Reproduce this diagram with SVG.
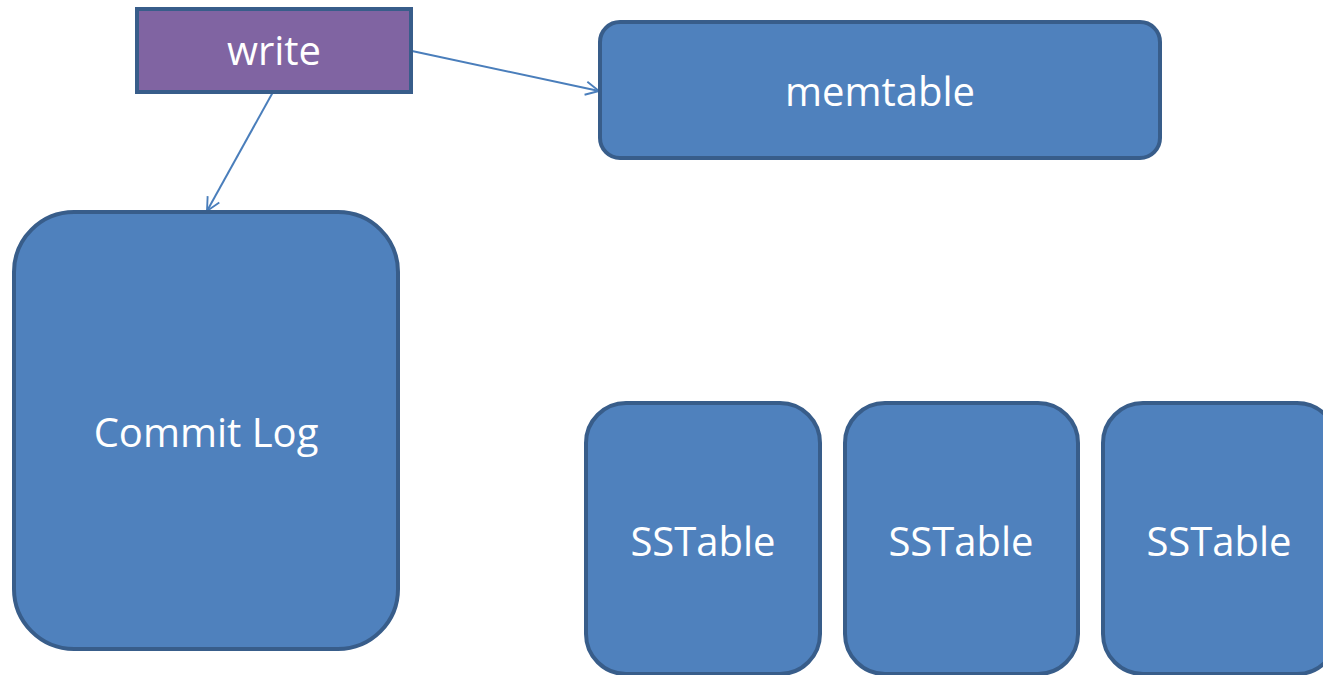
<svg xmlns="http://www.w3.org/2000/svg" width="1323" height="675" viewBox="0 0 1323 675">
  <style>
    .box { fill: #4F81BD; stroke: #385D8A; stroke-width: 4; }
    .wbox { fill: #8064A2; stroke: #385D8A; stroke-width: 4; }
    .lbl { font-family: "Open Sans", "Liberation Sans", sans-serif; font-size: 40px; fill: #FFFFFF; text-anchor: middle; }
    .conn { stroke: #4A7EBB; stroke-width: 2; fill: none; marker-end: url(#arrow); }
  </style>
  <defs>
    <marker id="arrow" viewBox="0 0 12 12" refX="11" refY="6" markerWidth="8" markerHeight="8" markerUnits="strokeWidth" orient="auto">
      <path d="M1,1 L11,6 L1,11" fill="none" stroke="#4A7EBB" stroke-width="1.4"/>
    </marker>
  </defs>
  <rect width="1323" height="675" fill="#FFFFFF"/>
  <g id="connectors">
    <line class="conn" x1="412" y1="51" x2="599" y2="91"/>
    <line class="conn" x1="273" y1="92" x2="207" y2="211"/>
  </g>
  <g id="write">
    <rect class="wbox" x="137" y="9" width="274" height="83"/>
    <text class="lbl" x="274" y="65">write</text>
  </g>
  <g id="memtable">
    <rect class="box" x="600" y="22" width="560" height="136" rx="20" ry="20"/>
    <text class="lbl" x="880" y="106">memtable</text>
  </g>
  <g id="commitlog">
    <rect class="box" x="14" y="212" width="384" height="437" rx="60" ry="60"/>
    <text class="lbl" x="206" y="447">Commit Log</text>
  </g>
  <g id="sstable1">
    <rect class="box" x="586" y="403" width="234" height="271" rx="40" ry="40"/>
    <text class="lbl" x="703" y="556">SSTable</text>
  </g>
  <g id="sstable2">
    <rect class="box" x="845" y="403" width="233" height="271" rx="40" ry="40"/>
    <text class="lbl" x="961" y="556">SSTable</text>
  </g>
  <g id="sstable3">
    <rect class="box" x="1103" y="403" width="234" height="271" rx="40" ry="40"/>
    <text class="lbl" x="1219" y="556">SSTable</text>
  </g>
</svg>
